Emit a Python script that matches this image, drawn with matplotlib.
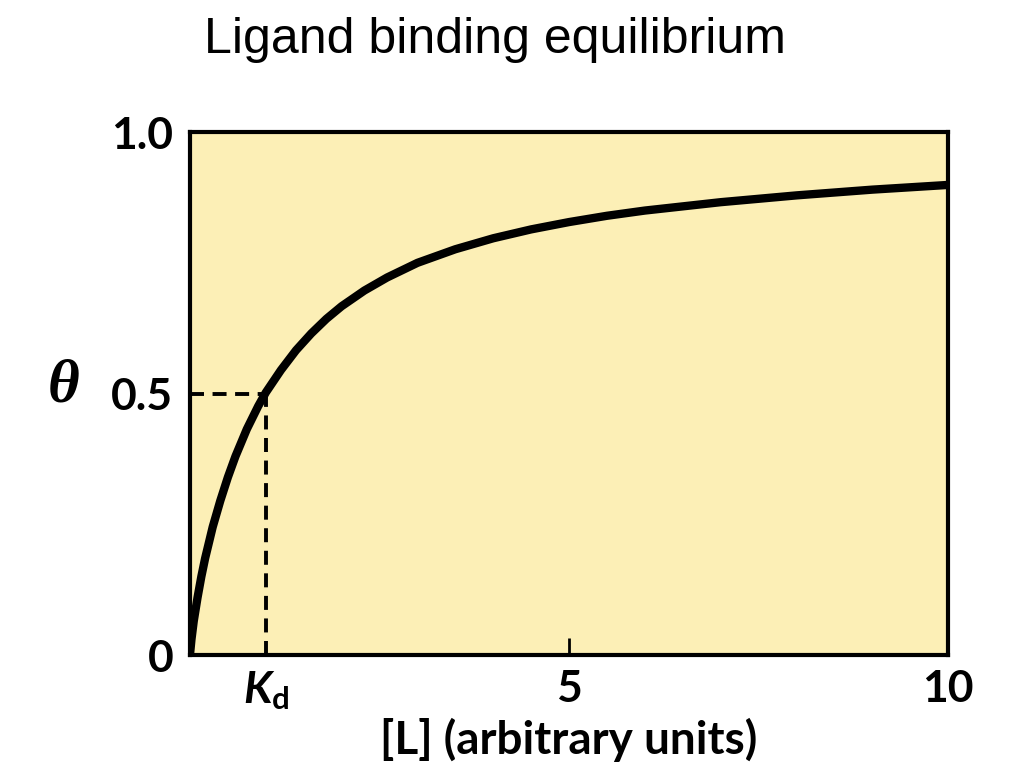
import matplotlib
matplotlib.use("Agg")
import matplotlib.pyplot as plt

# values
conc = [0, 0.02, 0.05, 0.1, 0.15, 0.2, 0.3, 0.4, 0.5, 0.6, 0.75, 0.9, 1.0,
        1.2, 1.4, 1.6, 1.8, 2.0, 2.3, 2.6, 3.0, 3.5, 4.0, 4.5, 5.0, 5.5,
        6.0, 7.0, 8.0, 9.0, 10.0]
theta = [0, 0.03, 0.065, 0.11, 0.15, 0.185, 0.245, 0.295, 0.34, 0.38,
         0.432, 0.476, 0.502, 0.545, 0.583, 0.615, 0.643, 0.667, 0.697, 0.722,
         0.75, 0.776, 0.797, 0.814, 0.828, 0.84, 0.85, 0.866, 0.879, 0.89, 0.899]
kd = 1.0
half = 0.5
xtick_pos = [kd, 5, 10]
xtick_lab = [r'$\mathit{K}_{\mathbf{d}}$', '5', '10']
ytick_pos = [0, 0.5, 1.0]
ytick_lab = ['0', '0.5', '1.0']

plt.rcParams['font.family'] = 'Lato'
plt.rcParams['font.weight'] = 'bold'
plt.rcParams['mathtext.fontset'] = 'custom'
plt.rcParams['mathtext.it'] = 'Lato:italic:bold'
plt.rcParams['mathtext.bf'] = 'Lato:bold'
plt.rcParams['mathtext.rm'] = 'Lato:bold'

fig = plt.figure(figsize=(10.24, 7.68), dpi=100)
ax = fig.add_axes([0.1855, 0.147, 0.7405, 0.681])
ax.set_facecolor('#fcefb6')

ax.plot(conc, theta, color='black', lw=6, solid_capstyle='butt',
        solid_joinstyle='round', zorder=3)
ax.plot([0, kd], [half, half], color='black', lw=2.8, dashes=(3.6, 2.2), zorder=2)
ax.plot([kd, kd], [0, half], color='black', lw=2.8, dashes=(3.6, 2.2), zorder=2)

ax.set_xlim(0, 10)
ax.set_ylim(0, 1.0)
for s in ax.spines.values():
    s.set_linewidth(3)

ax.set_xticks(xtick_pos, xtick_lab)
ax.set_yticks(ytick_pos, ytick_lab)
ax.tick_params(axis='x', direction='in', length=12, width=2, pad=10, labelsize=32)
ax.tick_params(axis='y', length=0, pad=12, labelsize=32)
ax.xaxis.get_major_ticks()[0].tick1line.set_visible(False)
ax.xaxis.get_major_ticks()[2].tick1line.set_visible(False)

ax.set_xlabel('[L] (arbitrary units)', fontweight='bold', fontsize=33, labelpad=4)
fig.text(0.062, 0.497, '\u03b8', fontfamily='Liberation Serif', style='italic',
         fontweight='bold', fontsize=44, ha='center', va='center')
fig.text(0.483, 0.948, 'Ligand binding equilibrium', fontfamily='Liberation Sans',
         fontweight='normal', fontsize=36, ha='center', va='center')

fig.savefig('out.png', dpi=100)
